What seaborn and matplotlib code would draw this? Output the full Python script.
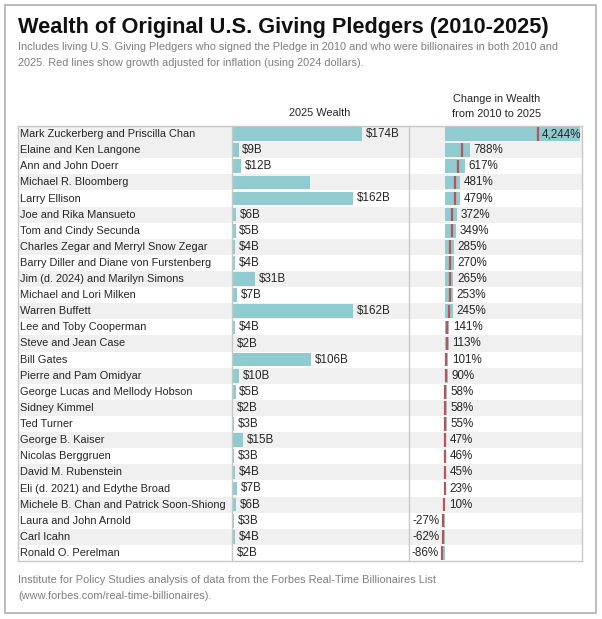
import pandas as pd
import matplotlib.pyplot as plt
import seaborn as sns
from matplotlib.patches import Rectangle

# Data
names = [
    "Mark Zuckerberg and Priscilla Chan", "Elaine and Ken Langone", "Ann and John Doerr",
    "Michael R. Bloomberg", "Larry Ellison", "Joe and Rika Mansueto",
    "Tom and Cindy Secunda", "Charles Zegar and Merryl Snow Zegar",
    "Barry Diller and Diane von Furstenberg", "Jim (d. 2024) and Marilyn Simons",
    "Michael and Lori Milken", "Warren Buffett", "Lee and Toby Cooperman",
    "Steve and Jean Case", "Bill Gates", "Pierre and Pam Omidyar",
    "George Lucas and Mellody Hobson", "Sidney Kimmel", "Ted Turner",
    "George B. Kaiser", "Nicolas Berggruen", "David M. Rubenstein",
    "Eli (d. 2021) and Edythe Broad", "Michele B. Chan and Patrick Soon-Shiong",
    "Laura and John Arnold", "Carl Icahn", "Ronald O. Perelman",
]
wealth_2025 = [174, 9, 12, 105, 162, 6, 5, 4, 4, 31, 7, 162, 4, 2, 106, 10, 5, 2, 3, 15, 3, 4, 7, 6, 3, 4, 2]
wealth_labels = ["$174B", "$9B", "$12B", "", "$162B", "$6B", "$5B", "$4B", "$4B", "$31B",
                 "$7B", "$162B", "$4B", "$2B", "$106B", "$10B", "$5B", "$2B", "$3B",
                 "$15B", "$3B", "$4B", "$7B", "$6B", "$3B", "$4B", "$2B"]
change_pct = [4244, 788, 617, 481, 479, 372, 349, 285, 270, 265, 253, 245, 141, 113, 101,
              90, 58, 58, 55, 47, 46, 45, 23, 10, -27, -62, -86]
real_change_pct = [2920, 520, 400, 305, 303, 228, 212, 168, 157, 154, 145, 140, 68, 48, 40,
                   32, 10, 10, 8, 2, 2, 1, -14, -24, -49, -74, -90]

df = pd.DataFrame({"name": names, "wealth": wealth_2025, "change": change_pct})

TEAL = "#90cccf"
RED = "#b8545a"
GRID = "#c8c8c8"
TXT = "#262626"
GRAY = "#7f7f7f"
FS = 7.9      # names / notes
FS_VAL = 8.4  # value labels

sns.set_style("white")
plt.rcParams["font.family"] = ["Liberation Sans Narrow", "Liberation Sans", "DejaVu Sans"]

W, H = 602, 619
fig = plt.figure(figsize=(W / 100, H / 100), dpi=100)


def add_ax(x0, y0, x1, y1):
    return fig.add_axes([x0 / W, 1 - y1 / H, (x1 - x0) / W, (y1 - y0) / H])


TOP, BOT = 126, 561
n = len(names)

# table background with stripes
bg = add_ax(18, TOP, 582, BOT)
bg.set_xlim(0, 1)
bg.set_ylim(n - 0.5, -0.5)
for i in range(n):
    if i == 0 or i % 2 == 1:
        bg.axhspan(i - 0.5, i + 0.5, color="#f0f0f0", lw=0)
bg.set_xticks([])
bg.set_yticks([])
for s in bg.spines.values():
    s.set_color(GRID)
    s.set_linewidth(1)
for i, nm in enumerate(names):
    bg.text(0.004, i, nm, va="center", ha="left", fontsize=FS, color=TXT)

# 2025 wealth panel
ax1 = add_ax(232, TOP, 409, BOT)
ax1.patch.set_alpha(0)
sns.barplot(data=df, x="wealth", y="name", order=names, color=TEAL, saturation=1,
            width=0.85, linewidth=0, ax=ax1)
ax1.set_xlim(0, 237)
ax1.set_ylim(n - 0.5, -0.5)
for i, (v, lab) in enumerate(zip(wealth_2025, wealth_labels)):
    ax1.annotate(lab, (v, i), xytext=(2.5, 0), textcoords="offset points",
                 va="center", ha="left", fontsize=FS_VAL, color=TXT)
ax1.set_xticks([])
ax1.set_yticks([])
ax1.set_xlabel("")
ax1.set_ylabel("")
for k in ["top", "bottom"]:
    ax1.spines[k].set_visible(False)
for k in ["left", "right"]:
    ax1.spines[k].set_color(GRID)
    ax1.spines[k].set_linewidth(1)

# change in wealth panel
ax2 = add_ax(409, TOP, 582, BOT)
ax2.patch.set_alpha(0)
sns.barplot(data=df, x="change", y="name", order=names, color=TEAL, saturation=1,
            width=0.85, linewidth=0, ax=ax2)
ax2.set_xlim(-1132, 4308)
ax2.set_ylim(n - 0.5, -0.5)
for i, r in enumerate(real_change_pct):
    ax2.vlines(r, i - 0.42, i + 0.42, color=RED, lw=1.6)
for i, (v, r) in enumerate(zip(change_pct, real_change_pct)):
    lab = f"{v:,}%"
    if v < 0:
        ax2.annotate(lab, (min(v, r), i), xytext=(-2.5, 0), textcoords="offset points",
                     va="center", ha="right", fontsize=FS_VAL, color=TXT)
    else:
        x = max(v, r) if max(v, r) < 3500 else r
        ax2.annotate(lab, (x, i), xytext=(2.5, 0), textcoords="offset points",
                     va="center", ha="left", fontsize=FS_VAL, color=TXT)
ax2.set_xticks([])
ax2.set_yticks([])
ax2.set_xlabel("")
ax2.set_ylabel("")
for s in ax2.spines.values():
    s.set_visible(False)

# titles and notes
fig.text(18 / W, 1 - 28 / H, "Wealth of Original U.S. Giving Pledgers (2010-2025)",
         fontsize=15.7, fontweight="bold", color="#111111", va="center", ha="left")
fig.text(18 / W, 1 - 47 / H,
         "Includes living U.S. Giving Pledgers who signed the Pledge in 2010 and who were billionaires in both 2010 and",
         fontsize=FS, color=GRAY, va="center", ha="left")
fig.text(18 / W, 1 - 63 / H,
         "2025. Red lines show growth adjusted for inflation (using 2024 dollars).",
         fontsize=FS, color=GRAY, va="center", ha="left")
fig.text(320 / W, 1 - 113 / H, "2025 Wealth", fontsize=FS, color=TXT, va="center", ha="center")
fig.text(497 / W, 1 - 99 / H, "Change in Wealth", fontsize=FS, color=TXT, va="center", ha="center")
fig.text(497 / W, 1 - 114 / H, "from 2010 to 2025", fontsize=FS, color=TXT, va="center", ha="center")
fig.text(18 / W, 1 - 580 / H,
         "Institute for Policy Studies analysis of data from the Forbes Real-Time Billionaires List",
         fontsize=FS, color=GRAY, va="center", ha="left")
fig.text(18 / W, 1 - 596 / H, "(www.forbes.com/real-time-billionaires).",
         fontsize=FS, color=GRAY, va="center", ha="left")

fig.patches.append(Rectangle((5 / W, 1 - 613 / H), 591 / W, 608 / H, transform=fig.transFigure,
                             fill=False, edgecolor="#b0b0b0", lw=1.2))

fig.savefig("out.png", dpi=100)
